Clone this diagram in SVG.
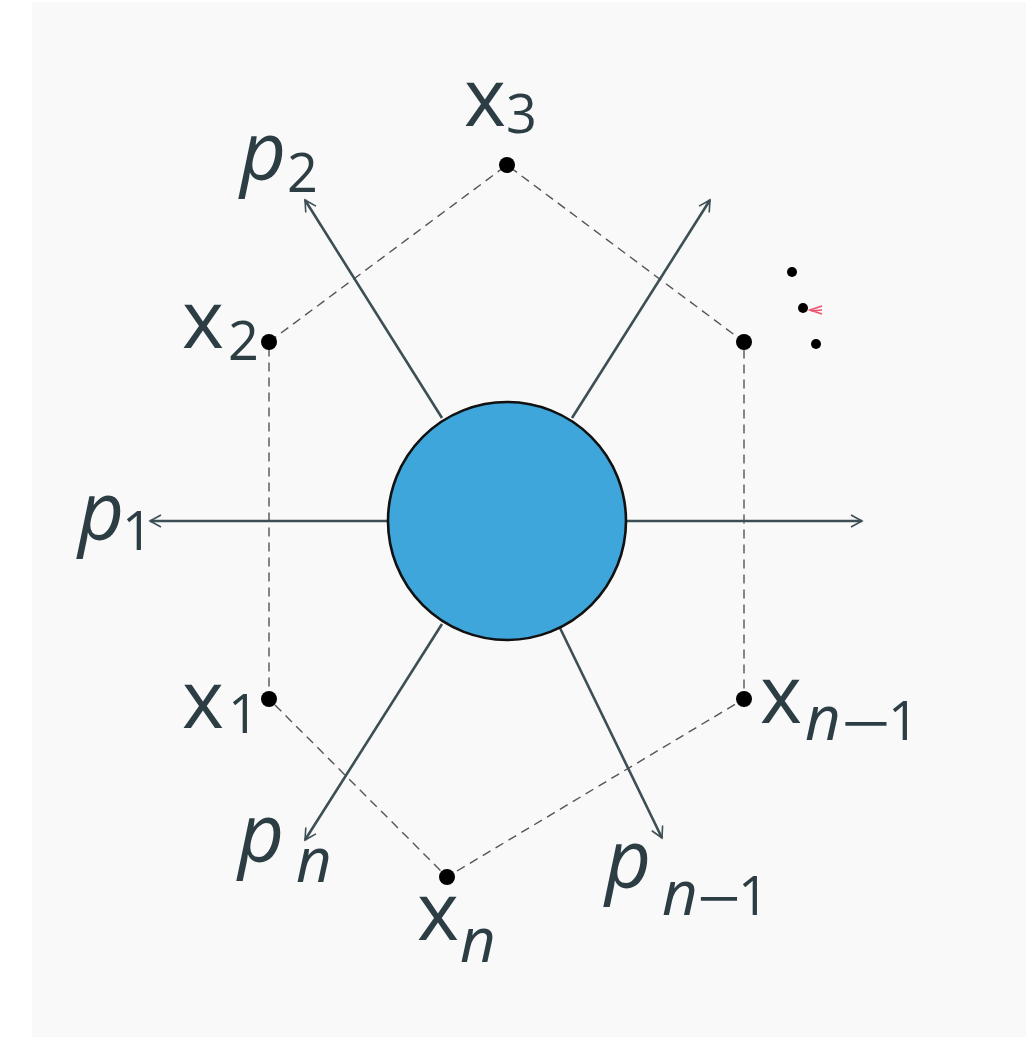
<svg xmlns="http://www.w3.org/2000/svg" width="1026" height="1037" viewBox="0 0 1026 1037">
<defs>
<style>
.bg{fill:#f9f9f9}
.arr{stroke:#3d4f55;stroke-width:2.6;fill:none;marker-end:url(#ah)}
.dash{stroke:#555;stroke-width:1.4;fill:none;stroke-dasharray:9 6}
.dot{fill:#000}
.sdot{fill:#000}
.lab{font-family:"Open Sans","Noto Sans",sans-serif;fill:#2c3e44}
.m{font-size:80px}
.s{font-size:54px}
.n{font-size:62px;font-style:italic}
.it{font-style:italic}
</style>
<marker id="ah" viewBox="0 0 14 14" refX="12" refY="7" markerWidth="14" markerHeight="14" markerUnits="userSpaceOnUse" orient="auto">
<path d="M1,1 L12,7 L1,13" fill="none" stroke="#3d4f55" stroke-width="1.6"/>
</marker>
</defs>
<rect class="bg" x="32" y="2" width="994" height="1035"/>
<g id="connectors">
<path class="dash" d="M269,342 L507,165 L744,342 L744,699 L447,877 L269,699 Z"/>
<line class="arr" x1="388" y1="521" x2="150" y2="521"/>
<line class="arr" x1="626" y1="521" x2="862" y2="521"/>
<line class="arr" x1="442" y1="418" x2="305" y2="200"/>
<line class="arr" x1="572" y1="418" x2="710" y2="200"/>
<line class="arr" x1="442" y1="624" x2="305" y2="840"/>
<line class="arr" x1="560" y1="628" x2="662" y2="838"/>
</g>
<g id="blob"><circle cx="507" cy="521" r="119" fill="#3ea6db" stroke="#111" stroke-width="2.6"/></g>
<g id="n-x3"><circle class="dot" cx="507" cy="165" r="8"/><text class="lab m" x="464" y="126">x</text><text class="lab s" x="506" y="133">3</text></g>
<g id="n-x2"><circle class="dot" cx="269" cy="342" r="8"/><text class="lab m" x="182" y="348">x</text><text class="lab s" x="228" y="360">2</text></g>
<g id="n-xn1u"><circle class="dot" cx="744" cy="342" r="8"/></g>
<g id="n-x1"><circle class="dot" cx="269" cy="699" r="8"/><text class="lab m" x="182" y="728">x</text><text class="lab s" x="228" y="733">1</text></g>
<g id="n-xn1"><circle class="dot" cx="744" cy="699" r="8"/><text class="lab m" x="760" y="723">x</text><text class="lab n" x="805" y="740">n</text><text class="lab s" x="841" y="743" textLength="50" lengthAdjust="spacingAndGlyphs">−</text><text class="lab s" x="888" y="740">1</text></g>
<g id="n-xn"><circle class="dot" cx="447" cy="877" r="8"/><text class="lab m" x="417" y="940">x</text><text class="lab n" x="460" y="962">n</text></g>
<g id="l-p1"><text class="lab m it" x="78" y="540">p</text><text class="lab s" x="122" y="550">1</text></g>
<g id="l-p2"><text class="lab m it" x="240" y="180">p</text><text class="lab s" x="287" y="192">2</text></g>
<g id="l-pn"><text class="lab m it" x="238" y="862">p</text><text class="lab n" x="296" y="882">n</text></g>
<g id="l-pn1"><text class="lab m it" x="605" y="888">p</text><text class="lab n" x="662" y="915">n</text><text class="lab s" x="697" y="918" textLength="44" lengthAdjust="spacingAndGlyphs">−</text><text class="lab s" x="738" y="915">1</text></g>
<g id="dots"><circle class="sdot" cx="792" cy="272" r="5"/><circle class="sdot" cx="803" cy="308" r="5"/><circle class="sdot" cx="816" cy="344" r="5"/><path d="M822,306 L810,310 L822,314 M811,311 L822,310" stroke="#f0506e" stroke-width="1.6" fill="none"/></g>
</svg>
